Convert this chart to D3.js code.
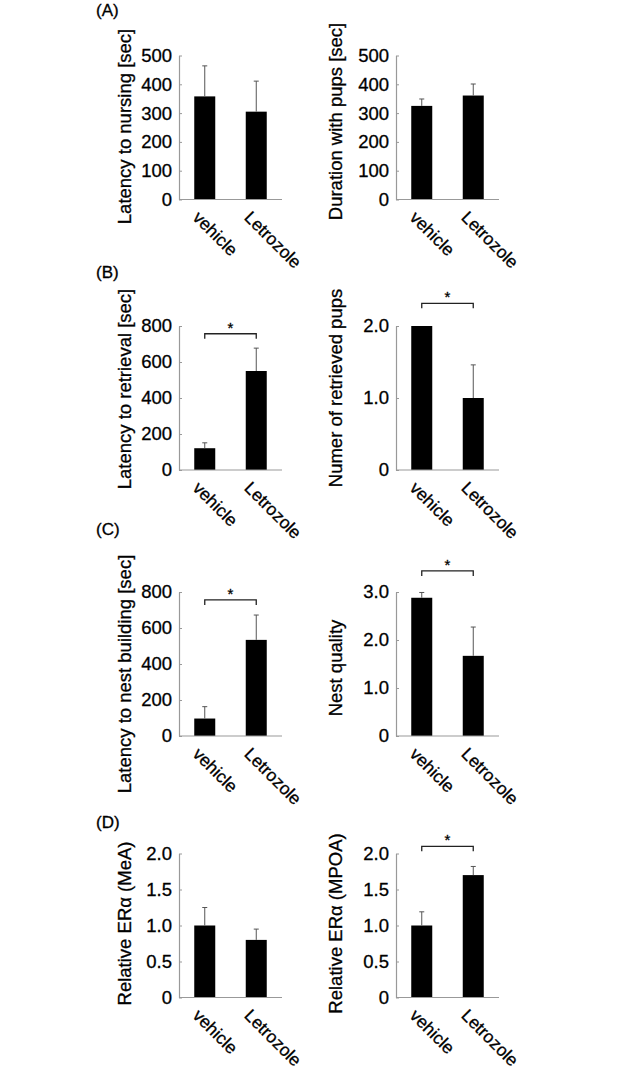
<!DOCTYPE html>
<html>
<head>
<meta charset="utf-8">
<script src="https://cdn.jsdelivr.net/npm/d3@7"></script>
<style>
  html, body { margin: 0; padding: 0; background: #fff; }
  svg { display: block; }
  text { font-family: Arial, "Liberation Sans", sans-serif; fill: #000; stroke: #000; stroke-width: 0.3px; }
</style>
</head>
<body>
<svg id="chart" width="642" height="1070"></svg>
<script>
// ---------- data ----------
const categories = ["vehicle", "Letrozole"];

const nursingMean = [358, 305];
const nursingSem  = [106, 106];

const durationMean = [325, 361];
const durationSem  = [24, 40];

const retrievalMean = [121, 550];
const retrievalSem  = [30, 127];

const pupsMean = [2.0, 1.0];
const pupsSem  = [0, 0.46];

const nestLatencyMean = [97, 534];
const nestLatencySem  = [66, 138];

const nestQualityMean = [2.88, 1.67];
const nestQualitySem  = [0.11, 0.6];

const meaMean = [1.0, 0.8];
const meaSem  = [0.25, 0.15];

const mpoaMean = [1.0, 1.7];
const mpoaSem  = [0.19, 0.12];

const ticks500 = [0, 100, 200, 300, 400, 500];
const ticks800 = [0, 200, 400, 600, 800];
const ticksPups = [0, 1, 2];
const ticksQuality = [0, 1, 2, 3];
const ticksER = [0, 0.5, 1, 1.5, 2];

const panelLabels = ["(A)", "(B)", "(C)", "(D)"];

// ---------- layout ----------
const W = 642, H = 1070;
const colAxisX = [179, 396];
const colTitleX = [131, 342];
const rowTop = [55.5, 326, 592, 853.5];
const rowLabelY = [16, 278, 535, 828];
const plotH = 144, plotW = 103, barW = 21;
const FS = 18.5;

const fmtInt = d => d3.format("d")(d);
const fmt1 = d => d === 0 ? "0" : d3.format(".1f")(d);

const panels = [
  {row:0, col:0, title:"Latency to nursing [sec]", mean:nursingMean, sem:nursingSem, ticks:ticks500, fmt:fmtInt, titleDy:-1},
  {row:0, col:1, title:"Duration with pups [sec]", mean:durationMean, sem:durationSem, ticks:ticks500, fmt:fmtInt, titleDy:-6},
  {row:1, col:0, title:"Latency to retrieval [sec]", mean:retrievalMean, sem:retrievalSem, ticks:ticks800, fmt:fmtInt, titleDy:-9, sig:757},
  {row:1, col:1, title:"Numer of retrieved pups", mean:pupsMean, sem:pupsSem, ticks:ticksPups, fmt:fmt1, titleDy:-10, sig:2.315},
  {row:2, col:0, title:"Latency to nest building [sec]", mean:nestLatencyMean, sem:nestLatencySem, ticks:ticks800, fmt:fmtInt, titleDy:10, sig:756},
  {row:2, col:1, title:"Nest quality", mean:nestQualityMean, sem:nestQualitySem, ticks:ticksQuality, fmt:fmt1, titleDy:4, sig:3.44},
  {row:3, col:0, title:"Relative ERα (MeA)", mean:meaMean, sem:meaSem, ticks:ticksER, fmt:fmt1, titleDy:-2},
  {row:3, col:1, title:"Relative ERα (MPOA)", mean:mpoaMean, sem:mpoaSem, ticks:ticksER, fmt:fmt1, titleDy:-2, sig:2.1},
];

const svg = d3.select("#chart");
svg.append("rect").attr("width", W).attr("height", H).attr("fill", "#fff");

// panel letters
svg.selectAll("text.plabel").data(panelLabels).join("text")
  .attr("class", "plabel")
  .attr("x", 96)
  .attr("y", (d, i) => rowLabelY[i])
  .attr("font-size", 17)
  .text(d => d);

panels.forEach(p => {
  const ox = colAxisX[p.col];
  const oy = rowTop[p.row];
  const g = svg.append("g").attr("transform", `translate(${ox},${oy})`);

  const yMax = p.ticks[p.ticks.length - 1];
  const y = d3.scaleLinear().domain([0, yMax]).range([plotH, 0]);
  const x = d3.scalePoint().domain(categories).range([0, plotW]).padding(0.5);

  // bars
  g.selectAll("rect.bar").data(categories).join("rect")
    .attr("class", "bar")
    .attr("x", d => x(d) - barW / 2)
    .attr("width", barW)
    .attr("y", (d, i) => y(p.mean[i]))
    .attr("height", (d, i) => plotH - y(p.mean[i]))
    .attr("fill", "#000");

  // error bars (upper only)
  const eb = categories.map((c, i) => ({c, m: p.mean[i], s: p.sem[i]})).filter(d => d.s > 0);
  g.selectAll("line.err").data(eb).join("line")
    .attr("class", "err")
    .attr("x1", d => x(d.c)).attr("x2", d => x(d.c))
    .attr("y1", d => y(d.m)).attr("y2", d => y(d.m + d.s))
    .attr("stroke", "#555").attr("stroke-width", 1);
  g.selectAll("line.cap").data(eb).join("line")
    .attr("class", "cap")
    .attr("x1", d => x(d.c) - 2.5).attr("x2", d => x(d.c) + 2.5)
    .attr("y1", d => y(d.m + d.s)).attr("y2", d => y(d.m + d.s))
    .attr("stroke", "#555").attr("stroke-width", 1);

  // y axis
  const ax = g.append("g")
    .call(d3.axisLeft(y).tickValues(p.ticks).tickFormat(p.fmt).tickSizeInner(-3).tickSizeOuter(0).tickPadding(7));
  ax.select(".domain").attr("stroke", "#999").attr("stroke-width", 1.2);
  ax.selectAll(".tick line").attr("stroke", "#999");
  ax.selectAll(".tick text").attr("font-size", FS).attr("font-family", 'Arial, "Liberation Sans", sans-serif').attr("fill", "#000");

  // x axis baseline
  g.append("line")
    .attr("x1", 0).attr("x2", plotW)
    .attr("y1", y(0)).attr("y2", y(0))
    .attr("stroke", "#999").attr("stroke-width", 1.2);

  // category labels
  g.selectAll("text.cat").data(categories).join("text")
    .attr("class", "cat")
    .attr("transform", d => `translate(${x(d) - 13},${plotH + 19}) rotate(45)`)
    .attr("font-size", 17.5)
    .text(d => d);

  // y title
  svg.append("text")
    .attr("transform", `translate(${colTitleX[p.col]},${oy + plotH / 2 + p.titleDy}) rotate(-90)`)
    .attr("text-anchor", "middle")
    .attr("font-size", FS)
    .text(p.title);

  // significance bracket
  if (p.sig !== undefined) {
    const x1 = x(categories[0]), x2 = x(categories[1]);
    const by = y(p.sig);
    g.append("path")
      .attr("d", `M${x1},${by + 5}V${by}H${x2}V${by + 5}`)
      .attr("fill", "none").attr("stroke", "#222").attr("stroke-width", 1.3);
    g.append("text")
      .attr("x", (x1 + x2) / 2).attr("y", by - 1)
      .attr("text-anchor", "middle").attr("font-size", 15)
      .attr("stroke-width", 0)
      .text("*");
  }
});
</script>
</body>
</html>
